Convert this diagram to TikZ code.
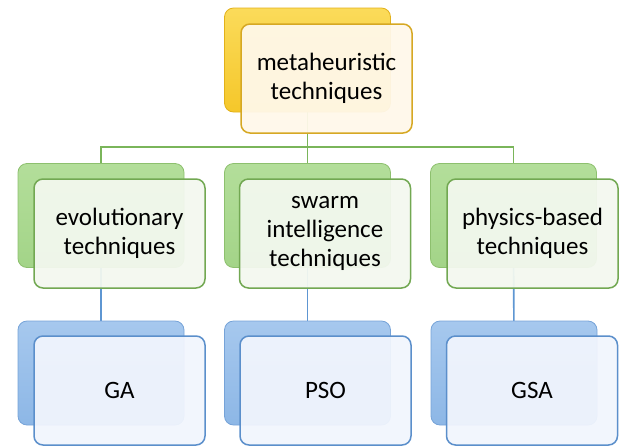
\documentclass[tikz,border=0pt]{standalone}
\usepackage{fontspec}
\setmainfont{Carlito}
\usetikzlibrary{backgrounds}
\definecolor{yback}{HTML}{F5C72A}
\definecolor{ybackT}{HTML}{FBDB5A}
\definecolor{yedge}{HTML}{E2B11A}
\definecolor{yfront}{HTML}{FFF8EA}
\definecolor{ybord}{HTML}{D6A823}
\definecolor{gback}{HTML}{A3D488}
\definecolor{gbackT}{HTML}{B3DE9A}
\definecolor{gedge}{HTML}{8DC06E}
\definecolor{gfront}{HTML}{F3F8EF}
\definecolor{gbord}{HTML}{72A852}
\definecolor{bback}{HTML}{8DB7E6}
\definecolor{bbackT}{HTML}{A6C8EE}
\definecolor{bedge}{HTML}{76A3D8}
\definecolor{bfront}{HTML}{F1F5FD}
\definecolor{bbord}{HTML}{5B8FCB}
\definecolor{gline}{HTML}{7AB55A}
\definecolor{bline}{HTML}{5E96D2}
\begin{document}
\begin{tikzpicture}[x=1pt,y=-1pt,
  box/.style={rounded corners=9pt, inner sep=0pt},
  backbox/.style={box, minimum width=166pt, minimum height=104pt, line width=0.8pt},
  frontbox/.style={box, minimum width=171pt, minimum height=109pt, line width=1.5pt,
     fill opacity=0.94, text opacity=1, align=center,
     font=\fontsize{25}{29}\selectfont},
  yb/.style={backbox, draw=yedge, top color=ybackT, bottom color=yback},
  yf/.style={frontbox, draw=ybord, fill=yfront},
  gb/.style={backbox, draw=gedge, top color=gbackT, bottom color=gback},
  gf/.style={frontbox, draw=gbord, fill=gfront},
  bb/.style={backbox, draw=bedge, top color=bbackT, bottom color=bback},
  bf/.style={frontbox, draw=bbord, fill=bfront},
  gconn/.style={draw=gline, line width=1.6pt},
  bconn/.style={draw=bline, line width=1.6pt}]
\useasboundingbox (0,0) rectangle (621,445);

% level 1
\node[yb] (tb) at (307.5,60) {};
\node[yf] (tf) at (326.5,78.5) {metaheuristic\\techniques};

% level 2
\node[gb] (eb) at (101,215.5) {};
\node[gf] (ef) at (119.5,233.5) {evolutionary\\techniques};
\node[gb] (sb) at (307.5,215.5) {};
\node[gf] (sf) at (325,233.5) {swarm\\intelligence\\techniques};
\node[gb] (pb) at (513.5,215.5) {};
\node[gf] (pf) at (532.5,233.5) {physics-based\\techniques};

% level 3
\node[bb] (gab) at (101,373) {};
\node[bf] (gaf) at (119.5,390.5) {GA};
\node[bb] (psob) at (307.5,373) {};
\node[bf] (psof) at (325.5,390.5) {PSO};
\node[bb] (gsab) at (514,373) {};
\node[bf] (gsaf) at (532,390.5) {GSA};

\begin{scope}[on background layer]
  \coordinate (bus) at (307.5,147);
  \draw[gconn] (tb.center) -- (bus);
  \draw[gconn] (eb.center) |- (bus) -| (pb.center);
  \draw[gconn] (sb.center) -- (bus);
  \draw[bconn] (eb.center) -- (gab.center);
  \draw[bconn] (sb.center) -- (psob.center);
  \draw[bconn] (pb.center) -- (gsab.center);
\end{scope}
\end{tikzpicture}
\end{document}
